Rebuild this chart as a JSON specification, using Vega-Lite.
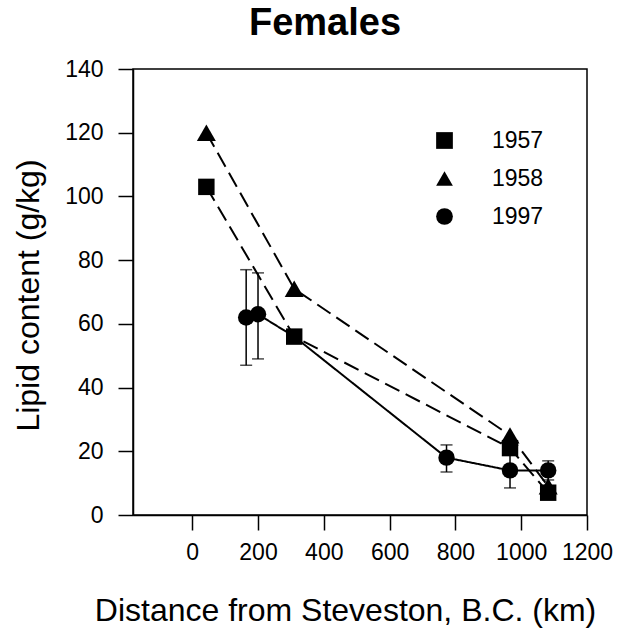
{
  "$schema": "https://vega.github.io/schema/vega-lite/v6.json",
  "autosize": "none",
  "padding": {"left": 133, "top": 69, "right": 33, "bottom": 116},
  "width": 454,
  "height": 446,
  "background": "white",
  "title": {
    "text": "Females",
    "font": "Liberation Sans",
    "fontSize": 38,
    "fontWeight": "bold",
    "color": "black",
    "anchor": "middle",
    "frame": "group",
    "dx": -35,
    "offset": 15
  },
  "config": {
    "view": {"stroke": "black", "strokeWidth": 1.5},
    "axis": {
      "labelFont": "Liberation Sans",
      "titleFont": "Liberation Sans",
      "labelColor": "black",
      "titleColor": "black",
      "domainColor": "black",
      "tickColor": "black",
      "domainWidth": 1.5,
      "tickWidth": 1.5,
      "grid": false
    }
  },
  "data": {
    "values": [
      {"series": "1957", "x": 43, "y": 103, "show": true},
      {"series": "1957", "x": 310, "y": 56, "show": true},
      {"series": "1957", "x": 966, "y": 21, "show": true},
      {"series": "1957", "x": 1082, "y": 7, "show": true},
      {"series": "1958", "x": 43, "y": 120, "show": true},
      {"series": "1958", "x": 310, "y": 71, "show": true},
      {"series": "1958", "x": 966, "y": 25, "show": true},
      {"series": "1958", "x": 1082, "y": 9, "show": true},
      {"series": "1997", "x": 164, "y": 62, "lo": 47, "hi": 77, "show": true},
      {"series": "1997", "x": 200, "y": 63, "lo": 49, "hi": 76, "show": true},
      {"series": "1997", "x": 310, "y": 56, "show": false},
      {"series": "1997", "x": 773, "y": 18, "lo": 13.5, "hi": 22, "show": true},
      {"series": "1997", "x": 966, "y": 14, "lo": 8.5, "hi": 20, "show": true},
      {"series": "1997", "x": 1082, "y": 14, "lo": 11, "hi": 17, "show": true}
    ]
  },
  "encoding": {
    "x": {
      "field": "x",
      "type": "quantitative",
      "scale": {"domain": [-180, 1200], "nice": false, "zero": false},
      "axis": {
        "values": [0, 200, 400, 600, 800, 1000, 1200],
        "format": "d",
        "title": "Distance from Steveston, B.C. (km)",
        "titleFontSize": 32,
        "titleFontWeight": "normal",
        "titleX": 212,
        "titleY": 95,
        "titleBaseline": "middle",
        "titleAnchor": "middle",
        "titleAlign": "center",
        "labelFontSize": 23,
        "labelPadding": 11,
        "tickSize": 15,
        "labelFlush": false,
        "labelOverlap": false
      }
    },
    "y": {
      "field": "y",
      "type": "quantitative",
      "scale": {"domain": [0, 140], "nice": false},
      "axis": {
        "values": [0, 20, 40, 60, 80, 100, 120, 140],
        "title": "Lipid content (g/kg)",
        "titleFontSize": 32,
        "titleFontWeight": "normal",
        "titleX": -105,
        "titleY": 226,
        "titleAngle": -90,
        "titleBaseline": "middle",
        "titleAlign": "center",
        "labelFontSize": 23,
        "labelPadding": 15,
        "tickSize": 15
      }
    }
  },
  "layer": [
    {
      "mark": {"type": "line", "color": "black", "strokeWidth": 2},
      "encoding": {
        "detail": {"field": "series"},
        "order": {"field": "x", "type": "quantitative"},
        "strokeDash": {
          "condition": {"test": "datum.series === '1997'", "value": [1, 0]},
          "value": [16, 7]
        }
      }
    },
    {
      "transform": [{"filter": "isValid(datum.lo)"}],
      "mark": {"type": "rule", "color": "black", "strokeWidth": 1.5},
      "encoding": {
        "y": {"field": "lo", "type": "quantitative"},
        "y2": {"field": "hi"}
      }
    },
    {
      "transform": [{"filter": "isValid(datum.lo)"}],
      "mark": {"type": "tick", "orient": "horizontal", "color": "black", "thickness": 1.5, "size": 12},
      "encoding": {"y": {"field": "lo", "type": "quantitative"}}
    },
    {
      "transform": [{"filter": "isValid(datum.hi)"}],
      "mark": {"type": "tick", "orient": "horizontal", "color": "black", "thickness": 1.5, "size": 12},
      "encoding": {"y": {"field": "hi", "type": "quantitative"}}
    },
    {
      "transform": [{"filter": "datum.show"}],
      "mark": {"type": "point", "filled": true, "color": "black", "opacity": 1},
      "encoding": {
        "size": {
          "condition": {"test": "datum.series === '1958'", "value": 360},
          "value": 270
        },
        "shape": {
          "field": "series",
          "type": "nominal",
          "scale": {"domain": ["1957", "1958", "1997"], "range": ["square", "triangle-up", "circle"]},
          "legend": {
            "title": null,
            "orient": "none",
            "legendX": 300,
            "legendY": 60,
            "symbolSize": 280,
            "symbolFillColor": "black",
            "symbolStrokeColor": "black",
            "symbolOpacity": 1,
            "labelFont": "Liberation Sans",
            "labelFontSize": 23,
            "labelColor": "black",
            "labelOffset": 36,
            "rowPadding": 14
          }
        }
      }
    }
  ]
}
